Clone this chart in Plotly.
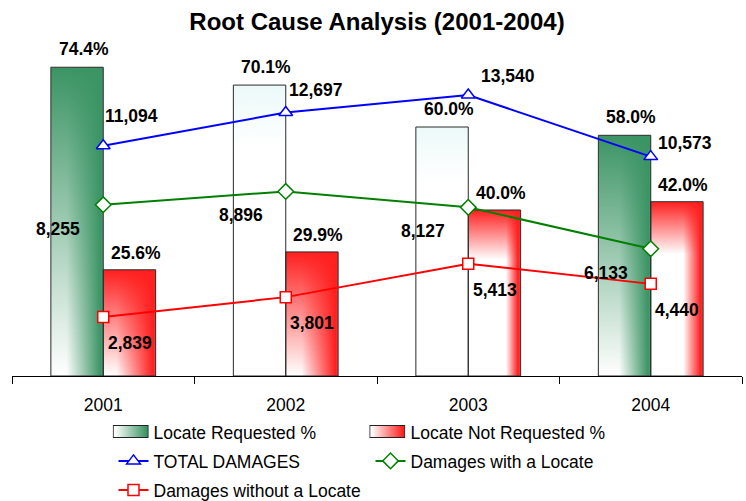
import base64
import plotly.graph_objects as go

# ---------------- data ----------------
years = ["2001", "2002", "2003", "2004"]
locate_requested_pct = [74.4, 70.1, 60.0, 58.0]
locate_not_requested_pct = [25.6, 29.9, 40.0, 42.0]
total_damages = [11094, 12697, 13540, 10573]
damages_with_locate = [8255, 8896, 8127, 6133]
damages_without_locate = [2839, 3801, 5413, 4440]

# ---------------- styles ----------------
FONT = "Liberation Sans, Arial, sans-serif"
GREEN = "#3b9464"
RED = "#ff1f1f"
BARGAP = 0.426
BAR_W = (1 - BARGAP) / 2
LABEL_SIZE = 17.5

# per-bar gradient looks (colour, vertical fade end, horizontal strip start, strip opacity)
green_looks = [(GREEN, 1.0, 0.3, 1), ("#ecf9f9", 0.22, 1.0, 0), ("#ecf9f9", 0.22, 1.0, 0), (GREEN, 1.0, 0.4, 1)]
red_looks = [(RED, 1.0, 0.25, 1), (RED, 1.0, 0.3, 1), (RED, 0.3, 0.72, 1), (RED, 0.3, 0.62, 1)]

# label offsets (px, right/down) relative to marker centre
total_offsets = [(28, -30), (30, -23), (40, -19), (34, -14)]
with_offset = (-45, 24)
without_offset = (26.5, 26)


def svg_uri(svg):
    return "data:image/svg+xml;base64," + base64.b64encode(svg.encode()).decode()


def bar_gradient(color, v_end, h_start, h_op):
    svg = (
        '<svg xmlns="http://www.w3.org/2000/svg" width="100" height="100" viewBox="0 0 100 100" preserveAspectRatio="none">'
        '<defs>'
        f'<linearGradient id="v" x1="0" y1="0" x2="0" y2="1"><stop offset="0" stop-color="{color}"/>'
        f'<stop offset="{v_end}" stop-color="#ffffff"/></linearGradient>'
        f'<linearGradient id="h" x1="0" y1="0" x2="1" y2="0"><stop offset="{h_start}" stop-color="{color}" stop-opacity="0"/>'
        f'<stop offset="0.95" stop-color="{color}" stop-opacity="{h_op}"/>'
        f'<stop offset="1" stop-color="{color}" stop-opacity="{h_op * 0.85}"/></linearGradient>'
        '</defs>'
        '<rect width="100" height="100" fill="url(#v)"/>'
        '<rect width="100" height="100" fill="url(#h)"/>'
        '</svg>'
    )
    return svg_uri(svg)


def swatch(color):
    svg = (
        '<svg xmlns="http://www.w3.org/2000/svg" width="36" height="13" viewBox="0 0 36 13">'
        '<defs>'
        f'<linearGradient id="g" x1="0" y1="0" x2="1" y2="0"><stop offset="0.05" stop-color="#ffffff"/>'
        f'<stop offset="0.95" stop-color="{color}"/></linearGradient>'
        '</defs>'
        '<rect x="0.5" y="0.5" width="35" height="12" fill="url(#g)" stroke="#222" stroke-width="1"/>'
        '</svg>'
    )
    return svg_uri(svg)


fig = go.Figure()

# bars (outline only; the gradient fill is drawn underneath as images)
fig.add_trace(go.Bar(x=years, y=locate_requested_pct, name="Locate Requested %",
                     marker=dict(color="rgba(0,0,0,0)", line=dict(color="#2a2a2a", width=1)),
                     showlegend=False, yaxis="y"))
fig.add_trace(go.Bar(x=years, y=locate_not_requested_pct, name="Locate Not Requested %",
                     marker=dict(color="rgba(0,0,0,0)", line=dict(color="#2a2a2a", width=1)),
                     showlegend=False, yaxis="y"))

# legend-only entries for the bars (swatches drawn as images)
for nm in ["Locate Requested %", "Locate Not Requested %"]:
    fig.add_trace(go.Scatter(x=[years[0]], y=[None], name=nm, mode="lines", legend="legend",
                             line=dict(color="rgba(0,0,0,0)", width=1), yaxis="y2"))

fig.add_trace(go.Scatter(x=years, y=total_damages, name="TOTAL DAMAGES", mode="lines+markers", yaxis="y2",
                         legend="legend2", line=dict(color="#0000ff", width=2),
                         marker=dict(symbol="triangle-up", size=12, color="white", line=dict(color="#0000ff", width=1.5))))
fig.add_trace(go.Scatter(x=years, y=damages_with_locate, name="Damages with a Locate", mode="lines+markers", yaxis="y2",
                         legend="legend2", line=dict(color="#008000", width=2),
                         marker=dict(symbol="diamond", size=12, color="white", line=dict(color="#008000", width=1.5))))
fig.add_trace(go.Scatter(x=years, y=damages_without_locate, name="Damages without a Locate", mode="lines+markers",
                         yaxis="y2", legend="legend3", line=dict(color="#ff0000", width=2),
                         marker=dict(symbol="square", size=11, color="white", line=dict(color="#ff0000", width=1.5))))

images = []
for i, (g, r) in enumerate(zip(locate_requested_pct, locate_not_requested_pct)):
    images.append(dict(source=bar_gradient(*green_looks[i]), xref="x", yref="y", x=i - BAR_W, y=g,
                       sizex=BAR_W, sizey=g, sizing="stretch", xanchor="left", yanchor="top", layer="below"))
    images.append(dict(source=bar_gradient(*red_looks[i]), xref="x", yref="y", x=i, y=r,
                       sizex=BAR_W, sizey=r, sizing="stretch", xanchor="left", yanchor="top", layer="below"))

# legend swatches for the bar series (paper coords)
PL, PW, PB, PH = 12, 730, 376, 332
for px, col in [(112.7, GREEN), (369.3, RED)]:
    images.append(dict(source=swatch(col), xref="paper", yref="paper",
                       x=(px - PL) / PW, y=(PB - 425) / PH, sizex=36 / PW, sizey=13 / PH,
                       sizing="stretch", xanchor="left", yanchor="top", layer="above"))

ann = []
lab_font = dict(family=FONT, size=LABEL_SIZE, color="black", weight="bold")
half = BAR_W / 2 * PW / 4  # half bar offset in px
for i in range(len(years)):
    ann.append(dict(x=i, y=locate_requested_pct[i], yref="y", text=f"{locate_requested_pct[i]:.1f}%",
                    xshift=-half + 6.5, yshift=18, showarrow=False, font=lab_font, xanchor="center", yanchor="middle"))
    ann.append(dict(x=i, y=locate_not_requested_pct[i], yref="y", text=f"{locate_not_requested_pct[i]:.1f}%",
                    xshift=half + 6.5, yshift=17, showarrow=False, font=lab_font, xanchor="center", yanchor="middle"))
    dx, dy = total_offsets[i]
    ann.append(dict(x=i, y=total_damages[i], yref="y2", text=f"{total_damages[i]:,}",
                    xshift=dx, yshift=-dy, showarrow=False, font=lab_font, xanchor="center", yanchor="middle"))
    ann.append(dict(x=i, y=damages_with_locate[i], yref="y2", text=f"{damages_with_locate[i]:,}",
                    xshift=with_offset[0], yshift=-with_offset[1], showarrow=False, font=lab_font,
                    xanchor="center", yanchor="middle"))
    ann.append(dict(x=i, y=damages_without_locate[i], yref="y2", text=f"{damages_without_locate[i]:,}",
                    xshift=without_offset[0], yshift=-without_offset[1], showarrow=False, font=lab_font,
                    xanchor="center", yanchor="middle"))

legend_common = dict(orientation="h", xref="container", yref="container", xanchor="left", yanchor="middle",
                     bgcolor="rgba(0,0,0,0)", borderwidth=0, entrywidth=212, entrywidthmode="pixels",
                     traceorder="normal", font=dict(family=FONT, size=17.5, color="black"),
                     itemclick=False, itemdoubleclick=False)

LX = 113.5 / 746
fig.update_layout(
    width=746, height=501,
    margin=dict(l=12, r=4, t=44, b=125, pad=0, autoexpand=False),
    paper_bgcolor="white", plot_bgcolor="white",
    font=dict(family=FONT, color="black"),
    title=dict(text="Root Cause Analysis (2001-2004)", x=0.5, xanchor="center", xref="paper",
               y=1 - 22 / 501, yref="container", yanchor="middle", automargin=False,
               font=dict(family=FONT, size=24, color="black", weight="bold")),
    barmode="group", bargap=BARGAP, bargroupgap=0,
    xaxis=dict(type="category", range=[-0.5, 3.5], autorange=False, showline=True, linecolor="black",
               linewidth=1, ticks="outside", automargin=False,
               ticklen=7, tickcolor="black", tickwidth=1, tickson="boundaries", showgrid=False,
               tickfont=dict(family=FONT, size=17.5, color="black"), ticklabelstandoff=13),
    yaxis=dict(range=[0, 80], visible=False, showgrid=False, zeroline=False),
    yaxis2=dict(range=[0, 16000], overlaying="y", side="right", visible=False, showgrid=False, zeroline=False),
    legend=dict(legend_common, x=LX, y=1 - 432 / 501),
    legend2=dict(legend_common, x=LX, y=1 - 461 / 501),
    legend3=dict(legend_common, x=LX, y=1 - 490 / 501),
    images=images,
    annotations=ann,
    showlegend=True,
)

fig.write_html("out.html", config={"displayModeBar": False},
               post_script="document.body.style.margin='0';document.body.style.padding='0';")
